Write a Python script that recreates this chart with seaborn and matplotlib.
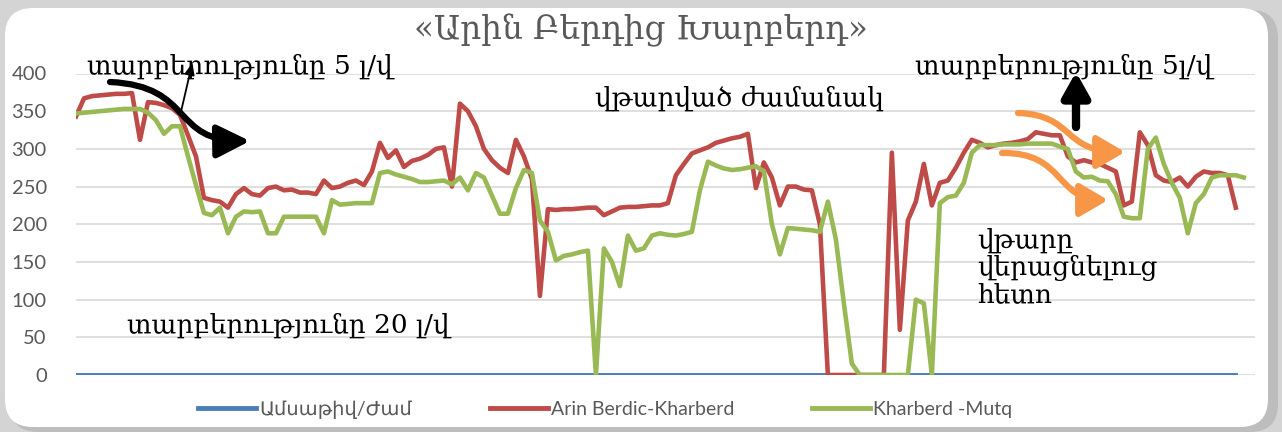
import numpy as np
import pandas as pd
import seaborn as sns
import matplotlib.pyplot as plt
from matplotlib.patches import FancyArrowPatch, FancyBboxPatch
from matplotlib.path import Path

# ---- data (one sample every ~8 px) ----
title = "«Արին Բերդից Խարբերդ»"
series_names = ["Ամսաթիվ/Ժամ", "Arin Berdic-Kharberd", "Kharberd -Mutq"]

blue_vals = [0] * 146

red_vals = [
    343, 367, 370, 371, 372, 373, 373, 374, 312, 362,
    361, 358, 354, 345, 318, 290, 235, 232, 230, 222,
    240, 248, 240, 238, 248, 250, 245, 246, 242, 242,
    240, 258, 248, 250, 255, 258, 252, 270, 308, 288,
    298, 276, 284, 287, 292, 300, 302, 250, 360, 350,
    330, 300, 285, 275, 268, 312, 290, 260, 105, 220,
    219, 220, 220, 221, 222, 222, 212, 217, 222, 223,
    223, 224, 225, 225, 228, 265, 280, 294, 298, 302,
    308, 311, 314, 316, 320, 248, 282, 262, 225, 250,
    250, 246, 245, 200, 0, 0, 0, 0, 0, 0,
    0, 0, 295, 60, 205, 230, 280, 225, 255, 258,
    275, 295, 312, 308, 302, 305, 307, 308, 310, 313,
    322, 320, 318, 318, 290, 282, 285, 282, 280, 275,
    270, 225, 230, 322, 305, 265, 258, 256, 262, 250,
    263, 270, 268, 268, 265, 222,
]

green_vals = [
    347, 348, 349, 350, 351, 352, 353, 353, 353, 348,
    338, 320, 330, 330, 290, 252, 215, 212, 222, 188,
    210, 217, 216, 217, 188, 188, 210, 210, 210, 210,
    210, 188, 232, 226, 227, 228, 228, 228, 268, 270,
    266, 263, 260, 256, 256, 257, 258, 253, 262, 245,
    268, 262, 238, 214, 214, 248, 272, 268, 205, 190,
    152, 158, 160, 163, 165, 0, 168, 150, 118, 185,
    165, 168, 185, 188, 186, 185, 187, 190, 245, 283,
    278, 274, 272, 273, 275, 277, 270, 200, 160, 195,
    194, 193, 192, 190, 230, 180, 95, 15, 0, 0,
    0, 0, 0, 0, 0, 100, 95, 0, 228, 236,
    238, 255, 295, 305, 305, 305, 306, 306, 306, 307,
    307, 307, 307, 303, 300, 270, 262, 263, 258, 257,
    240, 210, 208, 208, 300, 315, 280, 255, 235, 188,
    228, 240, 262, 265, 265, 265, 262,
]

y_ticks = [0, 50, 100, 150, 200, 250, 300, 350, 400]

colors = ["#4a7ebb", "#be4b48", "#98b954"]
widths = [2.8, 3.3, 3.3]

W, H = 1282, 432
fig = plt.figure(figsize=(W / 100, H / 100), dpi=100)
fig.patch.set_facecolor("#d4d4d4")

# white rounded panel with a soft shadow
shadow = FancyBboxPatch((0.10, 0.00), 12.68, 4.22, boxstyle="round,pad=0,rounding_size=0.28",
                        transform=fig.dpi_scale_trans, fc="#bdbdbd", ec="none", zorder=-11)
panel = FancyBboxPatch((0.05, 0.05), 12.63, 4.19, boxstyle="round,pad=0,rounding_size=0.28",
                       transform=fig.dpi_scale_trans, fc="white", ec="none", zorder=-10)
fig.add_artist(shadow)
fig.add_artist(panel)

ax = fig.add_axes([76 / W, 57 / H, (1255 - 76) / W, 301.5 / H])
ax.set_facecolor("none")

for name, vals, c, lw in zip(series_names, [blue_vals, red_vals, green_vals], colors, widths):
    df = pd.DataFrame({"idx": np.arange(len(vals)), "value": vals})
    sns.lineplot(data=df, x="idx", y="value", ax=ax, color=c, linewidth=lw,
                 label=name, estimator=None, sort=False)

ax.set_xlim(0, 147.4)
ax.set_ylim(0, 400)
ax.set_yticks(y_ticks)
ax.set_xticks([])
ax.set_xlabel("")
ax.set_ylabel("")
for s in ax.spines.values():
    s.set_visible(False)
ax.grid(axis="y", color="#d9d9d9", linewidth=1.2)
ax.set_axisbelow(True)
ax.tick_params(axis="y", length=0, pad=21, labelsize=14.5, labelcolor="#595959")
for lab in ax.get_yticklabels():
    lab.set_family(["Lato", "DejaVu Sans"])

leg = ax.legend(loc="center", bbox_to_anchor=((605 - 76) / (1255 - 76), -0.116), ncol=3,
                frameon=False, handlelength=3.0, columnspacing=4.0, handletextpad=0.15,
                prop={"family": ["Lato", "DejaVu Sans"], "size": 14})
for t in leg.get_texts():
    t.set_color("#595959")
for h in leg.get_lines():
    h.set_linewidth(3.5)


def P(x, y):
    return (x / W, 1 - y / H)


serif = ["DejaVu Serif"]
fs = 19
fig.text(*P(641, 30), title, ha="center", va="center", fontsize=23.5, color="#595959", family=serif)
fig.text(*P(87, 66), "տարբերությունը 5 լ/վ", ha="left", va="center", fontsize=fs, family=serif)
fig.text(*P(595, 98), "վթարված ժամանակ", ha="left", va="center", fontsize=fs, family=serif)
fig.text(*P(915, 66), "տարբերությունը 5լ/վ", ha="left", va="center", fontsize=fs, family=serif)
fig.text(*P(127, 325), "տարբերությունը 20 լ/վ", ha="left", va="center", fontsize=fs, family=serif)
for yy, line in zip([240, 268, 295], ["վթարը", "վերացնելուց", "հետո"]):
    fig.text(*P(977, yy), line, ha="left", va="center", fontsize=fs, family=serif)


def curved_arrow(pts, color, lw, hl, hw, ms):
    verts = [P(*p) for p in pts]
    path = Path(verts, [Path.MOVETO, Path.CURVE4, Path.CURVE4, Path.CURVE4])
    a = FancyArrowPatch(path=path, arrowstyle=f"-|>,head_length={hl},head_width={hw}",
                        mutation_scale=ms, color=color, lw=lw, transform=fig.transFigure,
                        capstyle="round", joinstyle="round")
    fig.add_artist(a)


curved_arrow([(110, 82), (195, 86), (170, 142), (250, 141)], "black", 4.5, 1.0, 0.5, 20)
curved_arrow([(1018, 113), (1075, 115), (1062, 152), (1125, 152)], "#f79646", 4.5, 0.85, 0.5, 20)
curved_arrow([(1002, 153), (1065, 152), (1055, 200), (1108, 200)], "#f79646", 4.5, 0.85, 0.5, 20)

fig.add_artist(FancyArrowPatch(P(180, 116), P(193, 60), arrowstyle="-|>,head_length=0.6,head_width=0.25",
                               mutation_scale=12, color="black", lw=1.3, transform=fig.transFigure))
fig.add_artist(FancyArrowPatch(P(1076, 127), P(1076, 72), arrowstyle="-|>,head_length=0.8,head_width=0.45",
                               mutation_scale=18, color="black", lw=6, transform=fig.transFigure,
                               shrinkA=0, shrinkB=0))

fig.savefig("out.png", dpi=100, facecolor=fig.get_facecolor())
